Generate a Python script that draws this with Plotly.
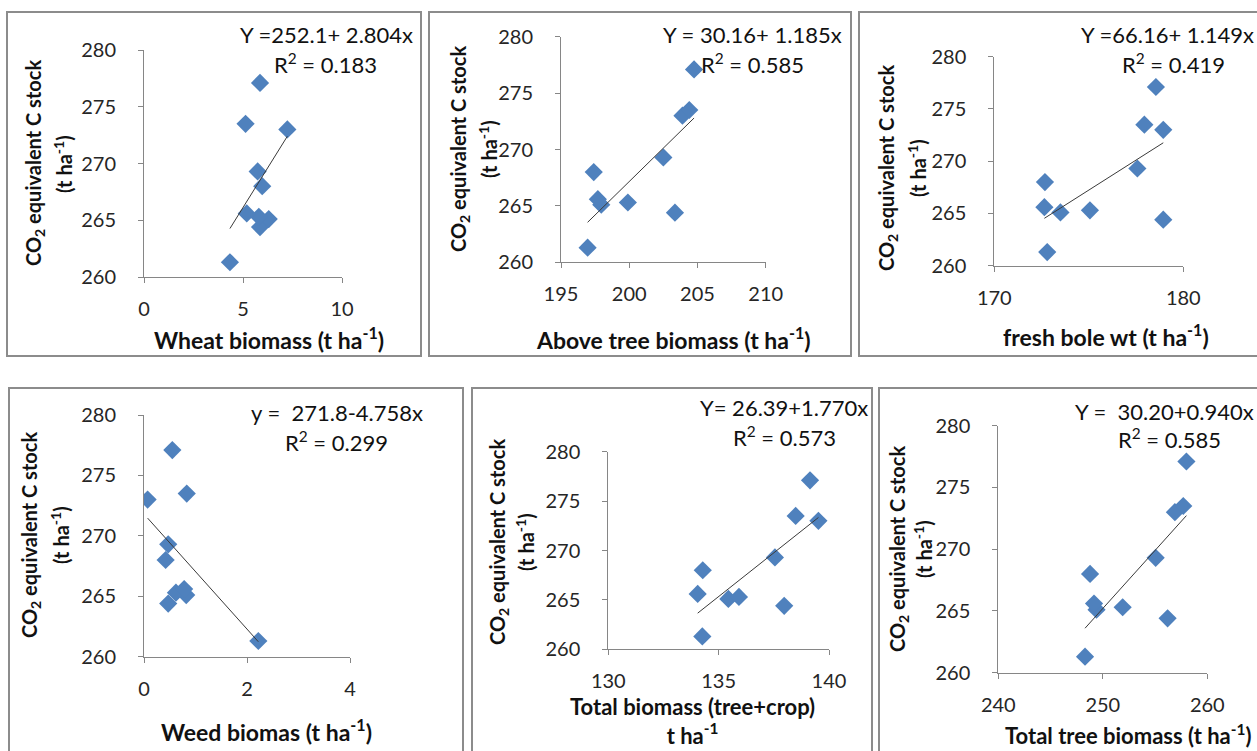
import plotly.graph_objects as go

# ---------------- data ----------------
co2_stock = [261.3, 264.4, 265.1, 265.3, 265.6, 268.0, 269.3, 273.0, 273.5, 277.1]

wheat_biomass = [4.34, 5.86, 6.30, 5.80, 5.19, 5.97, 5.74, 7.24, 5.13, 5.86]
above_tree_biomass = [196.95, 203.35, 197.95, 199.9, 197.7, 197.4, 202.5, 203.9, 204.4, 204.75]
fresh_bole_wt = [172.8, 178.94, 173.5, 175.06, 172.65, 172.68, 177.57, 178.94, 177.94, 178.55]
weed_biomass = [2.22, 0.47, 0.82, 0.62, 0.78, 0.42, 0.47, 0.07, 0.83, 0.55]
total_biomass = [134.26, 137.97, 135.44, 135.92, 134.05, 134.28, 137.55, 139.52, 138.49, 139.14]
total_tree_biomass = [248.3, 256.2, 249.4, 251.9, 249.16, 248.78, 255.06, 256.9, 257.7, 258.0]

intercepts = [252.1, 30.16, 66.16, 271.8, 26.39, 30.20]
slopes = [2.804, 1.185, 1.149, -4.758, 1.770, 0.940]

equation_labels = ["Y =252.1+ 2.804x", "Y = 30.16+ 1.185x", "Y =66.16+ 1.149x",
                   "y =  271.8-4.758x", "Y= 26.39+1.770x", "Y =  30.20+0.940x"]
r2_labels = ["R<sup>2</sup> = 0.183", "R<sup>2</sup> = 0.585", "R<sup>2</sup> = 0.419",
             "R<sup>2</sup> = 0.299", "R<sup>2</sup> = 0.573", "R<sup>2</sup> = 0.585"]
x_titles = ["Wheat biomass (t ha<sup>-1</sup>)", "Above tree biomass (t ha<sup>-1</sup>)",
            "fresh bole wt (t ha<sup>-1</sup>)", "Weed biomas (t ha<sup>-1</sup>)",
            "Total biomass (tree+crop)<br>t ha<sup>-1</sup>", "Total tree biomass (t ha<sup>-1</sup>)"]
y_title_1 = "CO<sub>2</sub> equivalent C stock"
y_title_2 = "(t ha<sup>-1</sup>)"

x_ranges = [[0, 10], [195, 210], [170, 180], [0, 4], [130, 140], [240, 260]]
x_dticks = [5, 5, 10, 2, 5, 10]
y_range = [260, 280]
y_dtick = 5

x_series = [wheat_biomass, above_tree_biomass, fresh_bole_wt, weed_biomass,
            total_biomass, total_tree_biomass]

# ---------------- layout geometry (pixels) ----------------
W, H = 1257, 751


def px(x):
    return x / W


def py(y):
    return 1 - y / H


# plot areas: (left, right, bottom, top) in pixels
plot_px = [
    (144, 342, 277, 50),
    (561, 765.7, 262.3, 36.7),
    (994.3, 1183.3, 265.7, 56.7),
    (144, 350, 656.7, 415),
    (608.3, 829, 649.3, 451.7),
    (998.3, 1207.3, 672.7, 425.7),
]
# panel frames (x0, y0, x1, y1)
frames_px = [
    (7, 12, 421, 356),
    (429, 12, 851, 356),
    (859, 12, 1270, 356),
    (9, 388, 463, 770),
    (472, 388, 872, 770),
    (879, 388, 1270, 770),
]
# equation positions: (x, y, anchor)
eq_px = [(326, 34, "center"), (752, 34, "center"), (1256, 34, "right"),
         (337, 412, "center"), (784, 407, "center"), (1256, 411, "right")]
r2_px = [(325, 63), (752, 63), (1173, 63), (336, 441), (784, 436), (1169, 438)]
xt_px = [(269, 338, "center"), (673, 338, "center"), (1106, 335, "center"),
         (266, 730, "center"), (692, 721, "center"), (1253, 734, "right")]
xt_size = [23, 23, 23, 23, 22, 22]
yt1_px = [(35, 163), (460, 149), (888, 168), (30, 535), (498, 542), (898, 549)]
yt2_px = [(63, 164), (488, 149), (917, 168), (60, 535), (525, 542), (923, 549)]

MARKER = "#4F81BD"
AXIS = "#868686"
FRAME = "#8c8c8c"
FONT = "Lato"
TXT = "#262626"

fig = go.Figure()
annotations = []
shapes = []

for i in range(6):
    n = i + 1
    xa = "x" if n == 1 else f"x{n}"
    ya = "y" if n == 1 else f"y{n}"
    xs = x_series[i]
    fig.add_trace(go.Scatter(
        x=xs, y=co2_stock, mode="markers", xaxis=xa, yaxis=ya,
        marker=dict(symbol="diamond", size=14, color=MARKER, line=dict(width=0)),
        showlegend=False, hoverinfo="x+y"))
    xmin, xmax = min(xs), max(xs)
    fig.add_trace(go.Scatter(
        x=[xmin, xmax],
        y=[intercepts[i] + slopes[i] * xmin, intercepts[i] + slopes[i] * xmax],
        mode="lines", xaxis=xa, yaxis=ya,
        line=dict(color="#3a3a3a", width=1), showlegend=False, hoverinfo="skip"))

    l, r, b, t = plot_px[i]
    axis_common = dict(showgrid=False, zeroline=False, showline=True, linecolor=AXIS,
                       linewidth=1, ticks="outside", ticklen=5, tickcolor=AXIS,
                       automargin=False,
                       tickfont=dict(family=FONT, size=20, color=TXT), fixedrange=True)
    fig.update_layout({
        ("xaxis" if n == 1 else f"xaxis{n}"): dict(
            domain=[px(l), px(r)], range=x_ranges[i], dtick=x_dticks[i], tick0=x_ranges[i][0],
            anchor=ya, ticklabelstandoff=9, **axis_common),
        ("yaxis" if n == 1 else f"yaxis{n}"): dict(
            domain=[py(b), py(t)], range=y_range, dtick=y_dtick, tick0=260,
            anchor=xa, ticklabelstandoff=18, **axis_common),
    })

    fx0, fy0, fx1, fy1 = frames_px[i]
    shapes.append(dict(type="rect", xref="paper", yref="paper",
                       x0=px(fx0), x1=px(fx1), y0=py(fy1), y1=py(fy0),
                       line=dict(color=FRAME, width=2), fillcolor="rgba(0,0,0,0)", layer="below"))

    ex, ey, ea = eq_px[i]
    annotations.append(dict(text=equation_labels[i], x=px(ex), y=py(ey), xref="paper", yref="paper",
                            xanchor=ea, yanchor="middle", showarrow=False,
                            font=dict(family=FONT, size=22, color="#111")))
    rx, ry = r2_px[i]
    annotations.append(dict(text=r2_labels[i], x=px(rx), y=py(ry), xref="paper", yref="paper",
                            xanchor="center", yanchor="middle", showarrow=False,
                            font=dict(family=FONT, size=22, color="#111")))
    tx, ty, ta = xt_px[i]
    annotations.append(dict(text="<b>" + x_titles[i] + "</b>", x=px(tx), y=py(ty),
                            xref="paper", yref="paper",
                            xanchor=ta, yanchor="middle", align="center",
                            showarrow=False, font=dict(family=FONT, size=xt_size[i], color="#111")))
    y1x, y1y = yt1_px[i]
    annotations.append(dict(text="<b>" + y_title_1 + "</b>", x=px(y1x), y=py(y1y),
                            xref="paper", yref="paper", textangle=-90,
                            xanchor="center", yanchor="middle", showarrow=False,
                            font=dict(family=FONT, size=20, color="#111")))
    y2x, y2y = yt2_px[i]
    annotations.append(dict(text="<b>" + y_title_2 + "</b>", x=px(y2x), y=py(y2y),
                            xref="paper", yref="paper", textangle=-90,
                            xanchor="center", yanchor="middle", showarrow=False,
                            font=dict(family=FONT, size=20, color="#111")))

fig.update_layout(
    width=W, height=H, margin=dict(l=0, r=0, t=0, b=0, autoexpand=False),
    paper_bgcolor="white", plot_bgcolor="white",
    shapes=shapes, annotations=annotations, showlegend=False,
)

fig.write_html("out.html", config={"displayModeBar": False},
               post_script="document.body.style.margin='0';document.body.style.overflow='hidden';")
